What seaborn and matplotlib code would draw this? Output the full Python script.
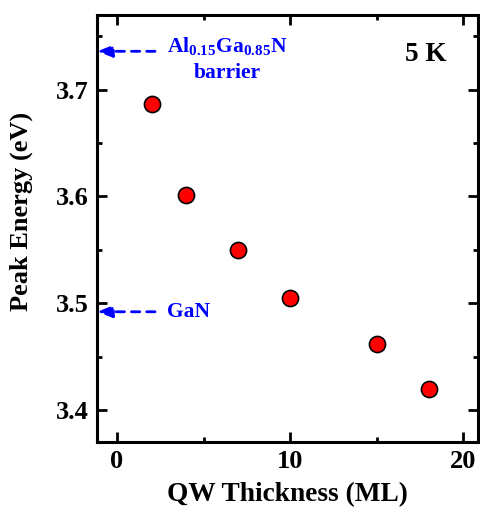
import matplotlib
matplotlib.use("Agg")
import matplotlib.pyplot as plt
import seaborn as sns
import pandas as pd
from matplotlib.ticker import MultipleLocator, FormatStrFormatter

# ── Data ──────────────────────────────────────────────────────────────────────
thickness = [2, 4, 7, 10, 15, 18]
peak_energy = [3.687, 3.601, 3.550, 3.505, 3.462, 3.420]
barrier_level = 3.736
gan_level = 3.492

df = pd.DataFrame({"thickness": thickness, "energy": peak_energy})

sns.set_style("ticks")
plt.rcParams["font.family"] = ["Liberation Serif", "DejaVu Serif"]
plt.rcParams["font.weight"] = "bold"
plt.rcParams["mathtext.fontset"] = "custom"
plt.rcParams["mathtext.rm"] = "Liberation Serif:bold"
plt.rcParams["mathtext.bf"] = "Liberation Serif:bold"
for key in ["text.color", "axes.labelcolor", "xtick.color", "ytick.color", "axes.edgecolor"]:
    plt.rcParams[key] = "black"

fig = plt.figure(figsize=(4.81, 5.16), dpi=100)
ax = fig.add_axes([0.2017, 0.1434, 0.7921, 0.8275])

sns.scatterplot(data=df, x="thickness", y="energy", ax=ax, s=135,
                color="#ff0000", edgecolor="black", linewidth=1.2, zorder=3)

ax.set_xlim(-1.15, 20.85)
ax.set_ylim(3.370, 3.770)
ax.xaxis.set_major_locator(MultipleLocator(10))
ax.xaxis.set_minor_locator(MultipleLocator(5))
ax.yaxis.set_major_locator(MultipleLocator(0.1))
ax.yaxis.set_minor_locator(MultipleLocator(0.05))
ax.yaxis.set_major_formatter(FormatStrFormatter("%.1f"))

ax.tick_params(which="both", direction="in", top=True, right=True, width=2)
ax.tick_params(which="major", length=7, labelsize=19, pad=6)
ax.tick_params(which="minor", length=3.5)
for lbl in ax.get_xticklabels() + ax.get_yticklabels():
    lbl.set_fontweight("bold")
for sp in ax.spines.values():
    sp.set_linewidth(2.2)

ax.set_xlabel("QW Thickness (ML)", fontsize=19.7, fontweight="bold", labelpad=6)
ax.set_ylabel("Peak Energy (eV)", fontsize=19, fontweight="bold")
ax.yaxis.set_label_coords(-0.168, 0.541)

# dashed arrows to the axis
for level in [barrier_level, gan_level]:
    ax.annotate("", xy=(-1.15, level), xytext=(2.2, level),
                arrowprops=dict(arrowstyle="-|>,head_length=0.9,head_width=0.35",
                                color="blue", lw=2, linestyle=(0, (3, 2.5)),
                                shrinkA=0, shrinkB=0))

ax.text(6.4, 3.740, r"Al$_{\mathbf{0.15}}$Ga$_{\mathbf{0.85}}$N",
        color="blue", fontsize=15.5, fontweight="bold", ha="center", va="center")
ax.text(6.4, 3.716, "barrier", color="blue", fontsize=15.5,
        fontweight="bold", ha="center", va="center")
ax.text(2.9, gan_level, "GaN", color="blue", fontsize=15.5, fontweight="bold",
        ha="left", va="center")
ax.text(17.85, 3.733, "5 K", color="black", fontsize=19.5, fontweight="bold",
        ha="center", va="center")

plt.savefig("out.png", dpi=100)
